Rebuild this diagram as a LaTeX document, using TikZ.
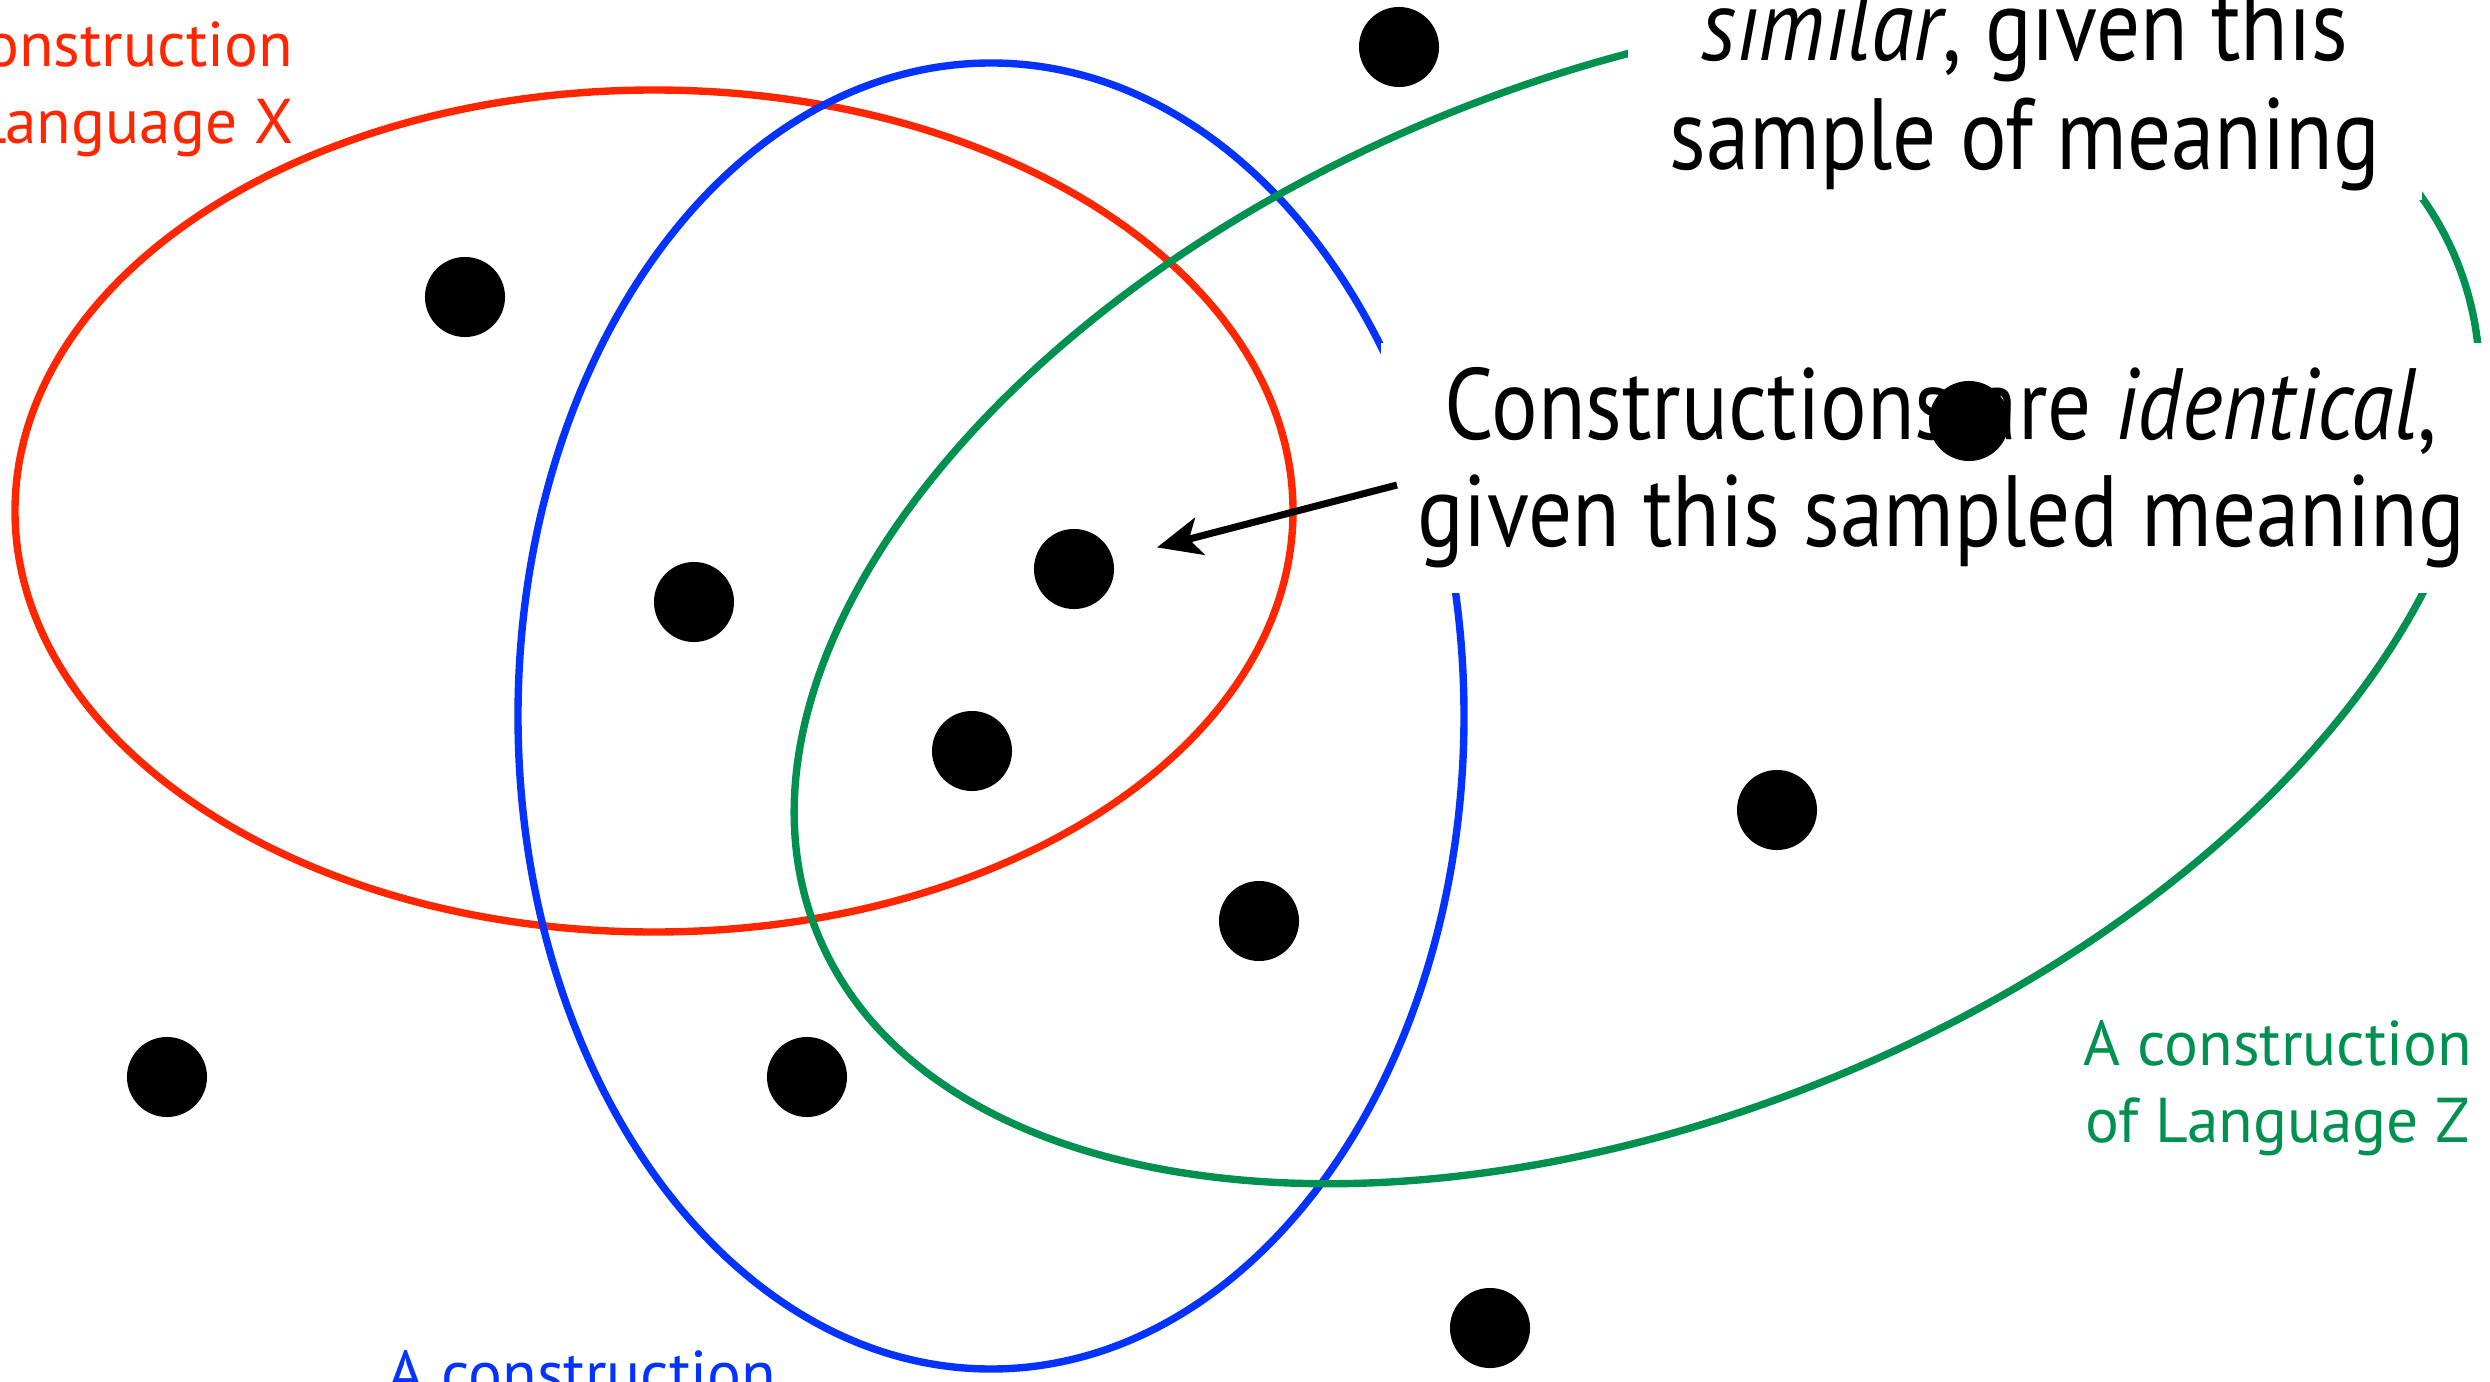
\documentclass[tikz,border=0pt]{standalone}
\usepackage{fontspec}
\setmainfont{PT Sans}
\newfontfamily\narrowfont[FakeStretch=0.86]{PT Sans}
\usepackage{xcolor}
\usetikzlibrary{arrows.meta}
\definecolor{setred}{RGB}{255,38,0}
\definecolor{setblue}{RGB}{4,51,255}
\definecolor{setgreen}{RGB}{0,145,80}

\begin{document}
\begin{tikzpicture}[
  x=0.01cm, y=-0.01cm,
  dot/.style={circle, fill=black, inner sep=0pt, minimum size=0.8cm},
  note/.style={align=center, fill=white, inner sep=0pt,
               font=\narrowfont\fontsize{28.8}{30.5}\selectfont},
  lbl/.style={align=center, inner sep=0pt,
              font=\fontsize{18}{21.8}\selectfont},
  langset/.style={line width=2.1pt},
  arr/.style={-{Stealth[length=4.4mm, width=3.8mm, inset=1.1mm]}, line width=2pt}
]
\useasboundingbox (0,0) rectangle (2490,1382);
\clip (0,0) rectangle (2490,1382);
% ── the three constructions ─────────────────────
\draw[langset, setred] (654,511) ellipse [x radius=639, y radius=421];
\draw[langset, setblue] (991,716) ellipse [x radius=473, y radius=653];
\draw[langset, setgreen, shift={(1637,597)}, rotate=22.4]
  (0,0) ellipse [x radius=886, y radius=519];
% ── captions ────────────────────────────────────
\node[note, minimum width=11.2cm, minimum height=2.5cm] (ident) at (1941,468)
  {Constructions are \textit{identical},\\ given this sampled meaning};
\node[note, minimum width=7.94cm, minimum height=2.2cm, font=\narrowfont\fontsize{28.8}{31}\selectfont]
  (simil) at (2025,90) {\textit{similar}, given this\\ sample of meaning};
\node[lbl, text=setred, anchor=east] (labx) at (294,89) {A construction\\of Language X};
\node[lbl, text=setgreen] (labz) at (2278,1088) {A construction\\of Language Z};
\node[lbl, text=setblue, anchor=base] (laby) at (582,1395) {A construction};
% ── sampled meanings ────────────────────────────
\node[dot] (d1) at (1399,47) {};
\node[dot] (d2) at (465,297) {};
\node[dot] (d3) at (1969,421) {};
\node[dot] (d4) at (1074,569) {};
\node[dot] (d5) at (694,602) {};
\node[dot] (d6) at (972,751) {};
\node[dot] (d7) at (1777,810) {};
\node[dot] (d8) at (1259,921) {};
\node[dot] (d9) at (167,1077) {};
\node[dot] (d10) at (807,1077) {};
\node[dot] (d11) at (1490,1328) {};
\draw[arr, shorten >=0.45cm] ([shift={(0.17cm,-0.17cm)}]ident.west) -- (d4);
\end{tikzpicture}
\end{document}
